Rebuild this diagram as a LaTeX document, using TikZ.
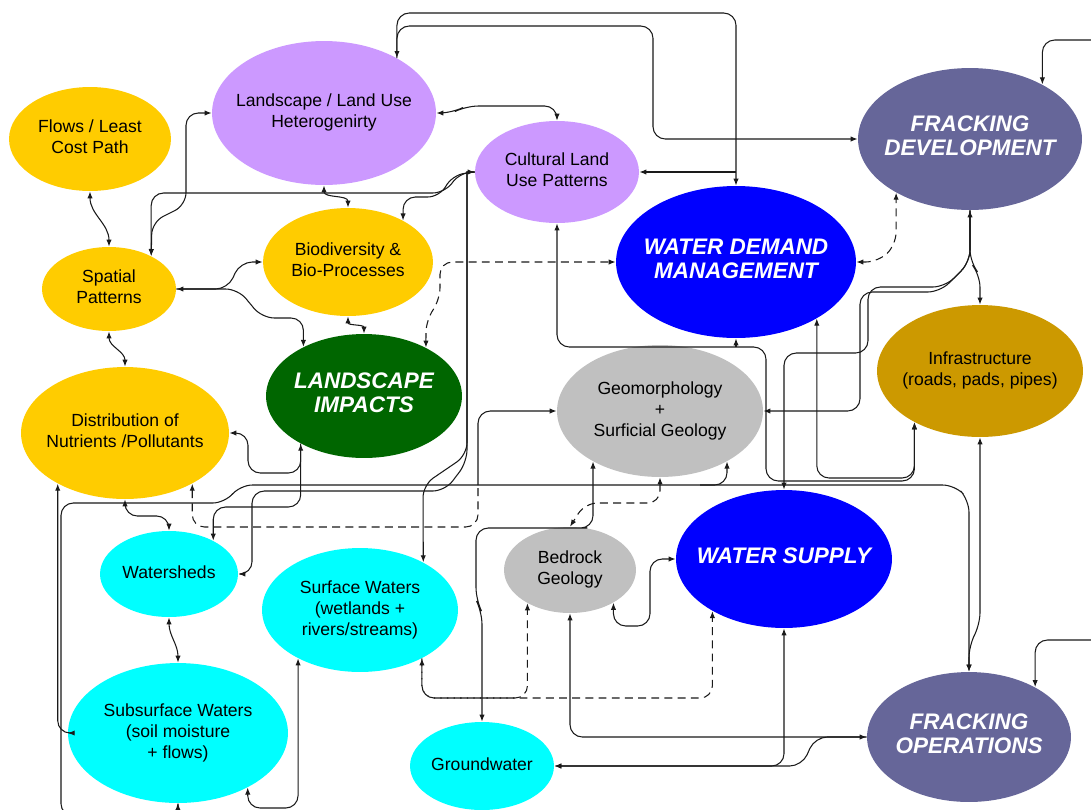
\documentclass[tikz,border=0pt]{standalone}
\usepackage{fontspec}
\setmainfont{Liberation Sans}
\usetikzlibrary{shapes.geometric,arrows.meta}
\definecolor{cyel}{HTML}{FFCC00}
\definecolor{clav}{HTML}{CC99FF}
\definecolor{cpur}{HTML}{666699}
\definecolor{cblu}{HTML}{0000FF}
\definecolor{cgrn}{HTML}{006600}
\definecolor{cgry}{HTML}{C0C0C0}
\definecolor{cgld}{HTML}{CC9900}
\definecolor{ccya}{HTML}{00FFFF}
\definecolor{cln}{HTML}{1A1A1A}
\newcommand\zt[1]{\makebox[0pt]{\begin{tabular}{@{}c@{}}#1\end{tabular}}}
\begin{document}
\begin{tikzpicture}[x=0.02cm,y=-0.02cm,
 ell/.style 2 args={ellipse, draw=none, inner sep=0pt, minimum width=#1*0.04cm, minimum height=#2*0.04cm},
 txtn/.style={font=\fontsize{10}{12}\selectfont, text=black},
 txtb/.style={font=\fontsize{12.8}{13.8}\selectfont\bfseries\itshape, text=white},
 lnk/.style={draw=cln, line width=0.6pt, rounded corners=7pt},
 lnkboth/.style={lnk, {Latex[length=4pt,width=3pt]}-{Latex[length=4pt,width=3pt]}},
 lnkfwd/.style={lnk, -{Latex[length=4pt,width=3pt]}},
 lnkback/.style={lnk, {Latex[length=4pt,width=3pt]}-},
 dsh/.style={dash pattern=on 4.5pt off 3pt},
]
\useasboundingbox (0,0) rectangle (1091,809);
\fill[white] (0,0) rectangle (1091,809);

% ---------- nodes ----------
\node[ell={81}{52}, fill=cyel, txtn] (flows) at (90,139) {\zt{Flows / Least\\Cost Path}};
\node[ell={112}{72}, fill=clav, txtn] (land) at (324,113) {\zt{Landscape / Land Use\\Heterogenirty}};
\node[ell={82}{51}, fill=clav, txtn] (cult) at (557,172) {\zt{Cultural Land\\Use Patterns}};
\node[ell={112}{71}, fill=cpur, txtb] (fd) at (970,139) {\zt{FRACKING\\DEVELOPMENT}};
\node[ell={67}{42}, fill=cyel, txtn] (spat) at (109,289) {\zt{Spatial\\Patterns}};
\node[ell={85}{54}, fill=cyel, txtn] (biod) at (348,262) {\zt{Biodiversity \&\\Bio-Processes}};
\node[ell={120}{76}, fill=cblu, txtb] (wdm) at (736,262) {\zt{WATER DEMAND\\MANAGEMENT}};
\node[ell={98}{62}, fill=cgrn, txtb] (li) at (364,396) {\zt{LANDSCAPE\\IMPACTS}};
\node[ell={104}{66}, fill=cyel, txtn] (dist) at (125,433) {\zt{Distribution of\\Nutrients /Pollutants}};
\node[ell={103}{66}, fill=cgry, txtn] (geo) at (660,411) {\zt{Geomorphology\\+\\Surficial Geology}};
\node[ell={103}{66}, fill=cgld, txtn] (infra) at (980,371) {\zt{Infrastructure\\(roads, pads, pipes)}};
\node[ell={69}{43}, fill=ccya, txtn] (wat) at (169,574) {\zt{Watersheds}};
\node[ell={98}{62}, fill=ccya, txtn] (surf) at (360,610) {\zt{Surface Waters\\(wetlands +\\rivers/streams)}};
\node[ell={66}{43}, fill=cgry, txtn] (bed) at (570,570) {\zt{Bedrock\\Geology}};
\node[ell={108}{69}, fill=cblu, txtb] (ws) at (784,559) {\zt{WATER SUPPLY}};
\node[ell={110}{70}, fill=ccya, txtn] (subs) at (178,733) {\zt{Subsurface Waters\\(soil moisture\\+ flows)}};
\node[ell={72}{44}, fill=ccya, txtn] (gw) at (482,766) {\zt{Groundwater}};
\node[ell={102}{65}, fill=cpur, txtb] (fo) at (969,737) {\zt{FRACKING\\OPERATIONS}};

% ---------- junction points ----------
\coordinate (jA) at (736,172);
\coordinate (jB) at (736,347);
\coordinate (jD) at (478,485);
\coordinate (jE) at (700,485);

% ---------- connectors ----------
% top
\draw[lnkboth] (land.37) |- (736,13) -- (wdm.north);
\draw[lnkfwd] (jA) -- (cult.east);
\draw[lnkfwd] (land.37) |- (653,26) -- (653,139) -- (fd.west);
\draw[lnkboth] (land.east) -- (452,113) -- (466,106) -| (cult.north);
\draw[lnkboth] (flows.south) to[out=-90,in=90] (spat.north);
\draw[lnkboth] (spat.south) to[out=-90,in=90] (dist.north);
\draw[lnkboth] (spat.38) -- (152,222) -- (186,205) |- (land.west);
\draw[lnkboth] (spat.38) |- (445,193) -- (460,172) -- (cult.west);
\draw[lnkfwd] (cult.west) -- (452,175) -- (440,197) -| (biod.37);
\draw[lnkboth] (land.south) to[out=-90,in=90] (biod.north);
\draw[lnkboth] (biod.south) to[out=-90,in=90] (li.north);
\draw[lnkboth] (spat.east) -- (228,289) -- (240,262) -- (biod.west);
\draw[lnkfwd] (spat.east) -- (238,289) -- (262,318) -| (li.141);
\draw[lnkboth, dsh] (li.38) -- (426,320) -- (440,300) |- (wdm.west);
\draw[lnkboth, dsh] (wdm.east) -- (878,262) -- (896,245) -- (fd.216);

% right
\draw[lnkboth] (fd.south) -- (970,262) -- (980,275) -- (infra.north);
\draw[lnkfwd] (fd.south) -- (970,262) -- (945,287) -| (868,353) -| (ws.north);
\draw[lnkfwd] (fd.south) -- (970,262) -- (940,292) -| (860,411) -- (geo.east);
\draw[lnkboth] (wdm.325) |- (infra.218 |- 0,478) -- (infra.218);
\draw[lnkboth] (cult.south) |- (766,347) |- (infra.218 |- 0,481) -- (infra.218);
\draw[lnkfwd] (jB) -- (wdm.south);
\draw[lnkboth] (infra.south) -- (980,625) -- (969,645) -- (fo.north);
\draw[lnkboth] (fd.37) |- (1120,40) |- (fo.37 |- 0,640) -- (fo.37);

% cultural vertical
\draw[lnkfwd, sharp corners] (cult.west) -- (467,172) [rounded corners=7pt] -- (467,455) -- (423,485) -- (surf.37);
\draw[lnkfwd, sharp corners] (cult.west) -- (467,172) [rounded corners=7pt] -- (467,462) -- (445,491) -- (252,491) |- (wat.east);

% left
\draw[lnkboth] (li.217) |- (248,473) |- (dist.east);
\draw[lnkfwd] (li.217) |- (wat.37 |- 0,507) -- (wat.37);
\draw[lnkboth] (dist.217) |- (subs.west);
\draw[lnkboth] (dist.south) |- (wat.north |- 0,516) -- (wat.north);
\draw[lnkback, dsh] (dist.323) |- (478,527) -- (jD);
\draw[lnkboth] (wat.south) to[out=-90,in=90] (subs.north);
\draw[lnkboth] (subs.south) -- (178,816) -- (61,816) -- (61,503) -- (225,503) -- (240,485) -- (955,485) -- (969,500) -- (fo.north);
\draw[lnkboth] (subs.322) |- (surf.218 |- 0,808) -- (surf.218);

% bottom
\draw[lnkboth, dsh] (surf.322) |- (bed.218 |- 0,698) -- (bed.218);
\draw[lnkfwd, dsh] (surf.322) |- (ws.216 |- 0,698) -- (ws.216);
\draw[lnkboth] (bed.south) |- (fo.west);
\draw[lnkboth] (ws.south) |- (gw.east);
\draw[lnkfwd] (fo.west) -- (815,737) -- (802,766) -- (gw.east);
\draw[lnkboth] (bed.323) |- (650,626) |- (ws.west);
\draw[lnkboth] (gw.north) -- (482,612) -- (476,600) |- (575,528) -| (geo.217);
\draw[lnkboth, dsh] (geo.south) |- (585,503) -- (bed.north);
\draw[lnkfwd] (jD) |- (geo.west);
\draw[lnkfwd] (jE) -| (geo.323);
\end{tikzpicture}
\end{document}
